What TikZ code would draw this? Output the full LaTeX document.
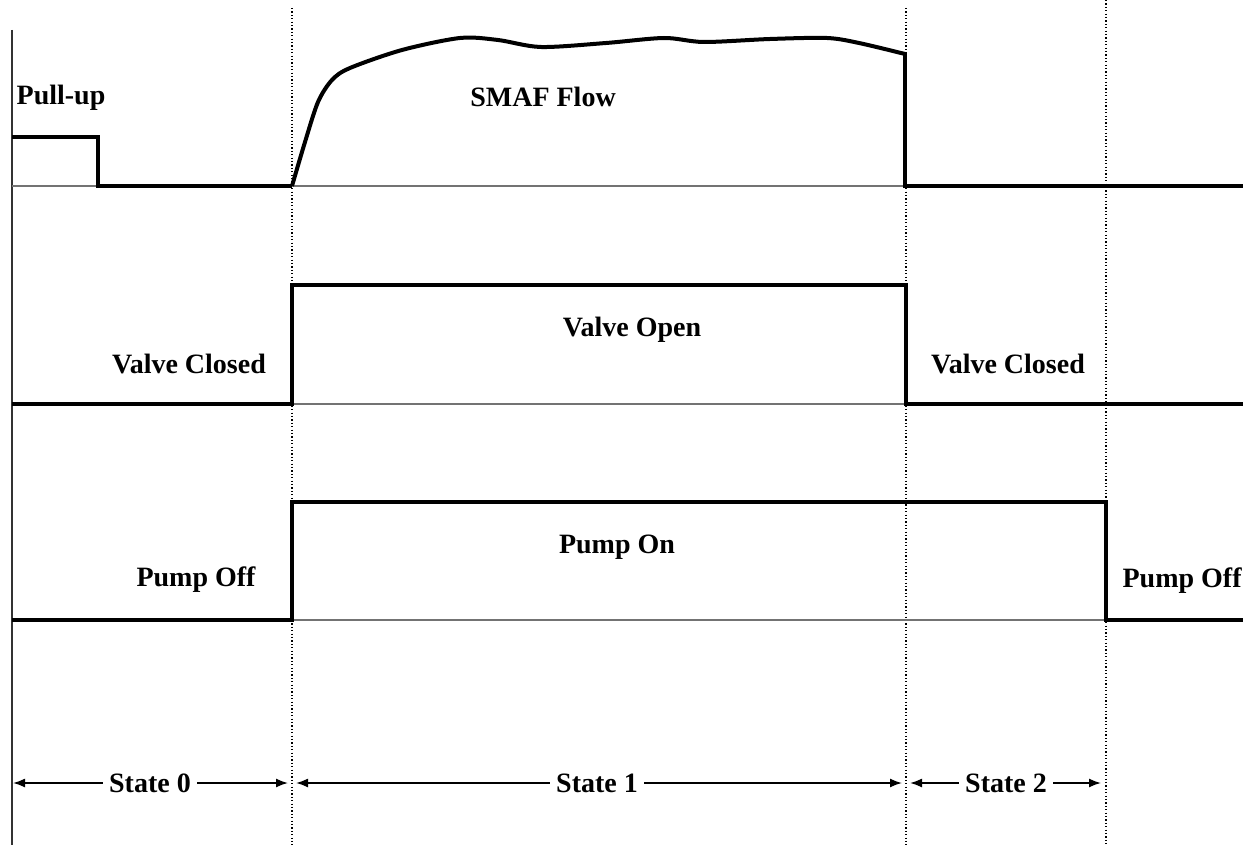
\documentclass[tikz,border=0pt]{standalone}
\usepackage{fontspec}
\setmainfont{Liberation Serif}
\usetikzlibrary{arrows.meta}
\begin{document}
\begin{tikzpicture}[x=0.5pt,y=-0.5pt,
  sig/.style={line width=2pt, line join=miter},
  baseln/.style={line width=0.8pt, draw=black!55},
  sepln/.style={line width=0.8pt, dash pattern=on 0.6pt off 1.1pt},
  lbl/.style={font=\bfseries\fontsize{14}{16}\selectfont, inner sep=0pt},
  statelbl/.style={font=\bfseries\fontsize{14}{16}\selectfont, inner ysep=0pt, inner xsep=3pt},
  dimarrow/.style={line width=0.8pt, -{Latex[length=6pt,width=4.5pt]}}]
\useasboundingbox (0,0) rectangle (1243,845);
\fill[white] (0,0) rectangle (1243,845);
% state separators
\draw[sepln] (292,8) -- (292,845);
\draw[sepln] (906,8) -- (906,845);
\draw[sepln] (1106,0) -- (1106,845);
% left axis
\draw[line width=0.8pt, black!80] (12,30) -- (12,845);
% baselines
\draw[baseln] (12,186) -- (1243,186);
\draw[baseln] (12,404) -- (1243,404);
\draw[baseln] (12,620) -- (1243,620);
% pull-up and SMAF flow
\draw[sig] (12,137) -- (98,137) -- (98,186) -- (292,186);
\draw[sig, line join=round] plot[smooth, tension=0.5] coordinates {(292,186) (305,142) (318,102) (332,80) (350,68) (402,50) (460,38) (498,40) (541,47) (606,43) (664,38) (704,42) (770,39) (827,38) (859,43) (905,54)};
\draw[sig] (905,53) -- (905,186) -- (1243,186);
% valve
\draw[sig] (12,404) -- (292,404) -- (292,285) -- (906,285) -- (906,404) -- (1243,404);
% pump
\draw[sig] (12,620) -- (292,620) -- (292,502) -- (1106,502) -- (1106,620) -- (1243,620);
% labels
\node[lbl] (pullup) at (61,98) {Pull-up};
\node[lbl] (smaf) at (543,97) {SMAF Flow};
\node[lbl] (vclosed1) at (189,364) {Valve Closed};
\node[lbl] (vopen) at (632,330) {Valve Open};
\node[lbl] (vclosed2) at (1008,364) {Valve Closed};
\node[lbl] (poff1) at (196,580) {Pump Off};
\node[lbl] (pon) at (617,547) {Pump On};
\node[lbl, anchor=east] (poff2) at (1242,581) {Pump Off};
% state arrows
\node[statelbl] (s0) at (150,783) {State 0};
\node[statelbl] (s1) at (597,783) {State 1};
\node[statelbl] (s2) at (1006,783) {State 2};
\coordinate (s0l) at (13,783);
\coordinate (s0r) at (288,783);
\coordinate (s1l) at (296,783);
\coordinate (s1r) at (902,783);
\coordinate (s2l) at (910,783);
\coordinate (s2r) at (1101,783);
\draw[dimarrow] (s0.west) -- (s0l);
\draw[dimarrow] (s0.east) -- (s0r);
\draw[dimarrow] (s1.west) -- (s1l);
\draw[dimarrow] (s1.east) -- (s1r);
\draw[dimarrow] (s2.west) -- (s2l);
\draw[dimarrow] (s2.east) -- (s2r);
\end{tikzpicture}
\end{document}
